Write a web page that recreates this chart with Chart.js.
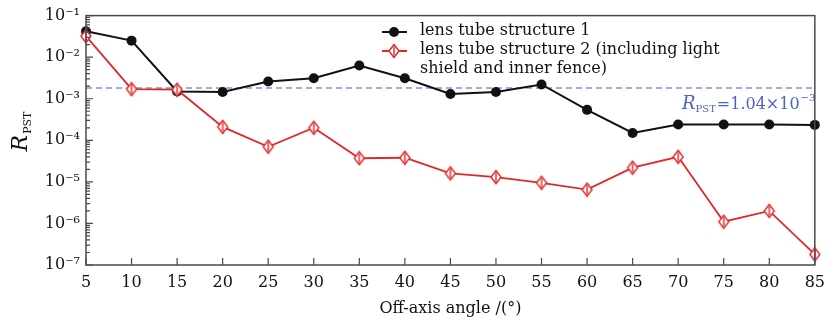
<!DOCTYPE html>
<html>
<head>
<meta charset="utf-8">
<script src="https://cdn.jsdelivr.net/npm/chart.js@4/dist/chart.umd.min.js"></script>
<style>
  html, body { margin: 0; padding: 0; background: #fff; }
  #wrap { width: 833px; height: 322px; }
</style>
</head>
<body>
<div id="wrap"><canvas id="pstChart" width="833" height="322"></canvas></div>
<script>
const angles = [5, 10, 15, 20, 25, 30, 35, 40, 45, 50, 55, 60, 65, 70, 75, 80, 85];
const structure1 = [4.2e-2, 2.5e-2, 1.5e-3, 1.45e-3, 2.6e-3, 3.1e-3, 6.3e-3, 3.1e-3, 1.3e-3, 1.45e-3, 2.2e-3, 5.4e-4, 1.5e-4, 2.4e-4, 2.4e-4, 2.4e-4, 2.35e-4];
const structure2 = [3.2e-2, 1.7e-3, 1.65e-3, 2.1e-4, 7e-5, 2.0e-4, 3.7e-5, 3.8e-5, 1.6e-5, 1.3e-5, 9.5e-6, 6.5e-6, 2.2e-5, 4.0e-5, 1.1e-6, 2.0e-6, 1.8e-7];
const yDecades = [-7, -6, -5, -4, -3, -2, -1];
const thresholdLine = 1.8e-3;
const legendLabels = ['lens tube structure 1', 'lens tube structure 2 (including light', 'shield and inner fence)'];

const FONT = '"DejaVu Serif", "Liberation Serif", serif';
const sup = { '-': '\u207B', '0': '\u2070', '1': '\u00B9', '2': '\u00B2', '3': '\u00B3', '4': '\u2074', '5': '\u2075', '6': '\u2076', '7': '\u2077', '8': '\u2078', '9': '\u2079' };
const toSup = s => String(s).split('').map(c => sup[c] || c).join('');

const pts = arr => arr.map((v, i) => ({ x: angles[i], y: v }));

function diamond(ctx, x, y, w, h) {
  ctx.beginPath();
  ctx.moveTo(x, y - h); ctx.lineTo(x + w, y); ctx.lineTo(x, y + h); ctx.lineTo(x - w, y); ctx.closePath();
  ctx.fill(); ctx.stroke();
  ctx.beginPath(); ctx.moveTo(x, y - h + 2); ctx.lineTo(x, y + h - 2); ctx.stroke();
}

// diamond marker as canvas for the red series
const dm = document.createElement('canvas');
dm.width = 14; dm.height = 16;
(() => {
  const c = dm.getContext('2d');
  c.fillStyle = '#fff'; c.strokeStyle = '#e02828'; c.lineWidth = 1.4;
  diamond(c, 7, 8, 5, 6.5);
})();

const decor = {
  id: 'decor',
  afterDatasetsDraw(chart) {
    const { ctx, chartArea: a, scales: { x, y } } = chart;
    ctx.save();
    // frame
    ctx.strokeStyle = '#4a4a4a'; ctx.lineWidth = 1.5;
    ctx.strokeRect(a.left, a.top, a.right - a.left, a.bottom - a.top);
    // inward ticks
    ctx.lineWidth = 1.2;
    ctx.beginPath();
    angles.forEach(v => {
      const px = x.getPixelForValue(v);
      ctx.moveTo(px, a.bottom); ctx.lineTo(px, a.bottom - 7);
    });
    yDecades.forEach(e => {
      for (let m = 1; m <= 9; m++) {
        const v = m * Math.pow(10, e);
        if (v > 0.1 + 1e-12) continue;
        const py = y.getPixelForValue(v);
        ctx.moveTo(a.left, py); ctx.lineTo(a.left + (m === 1 ? 7 : 4), py);
      }
    });
    ctx.stroke();
    ctx.restore();
  },
  afterDraw(chart) {
    const { ctx } = chart;
    ctx.save();
    // legend
    const lx0 = 382, lx1 = 407, tx = 420;
    ctx.lineWidth = 2;
    ctx.strokeStyle = '#111'; ctx.fillStyle = '#111';
    ctx.beginPath(); ctx.moveTo(lx0, 32); ctx.lineTo(lx1, 32); ctx.stroke();
    ctx.beginPath(); ctx.arc(394, 32, 5, 0, Math.PI * 2); ctx.fill();
    ctx.strokeStyle = '#e02828';
    ctx.beginPath(); ctx.moveTo(lx0, 51); ctx.lineTo(lx1, 51); ctx.stroke();
    ctx.drawImage(dm, 394 - 7, 51 - 8);
    ctx.fillStyle = '#111';
    ctx.font = '16px ' + FONT;
    ctx.textBaseline = 'middle';
    ctx.textAlign = 'left';
    ctx.fillText(legendLabels[0], tx, 31);
    ctx.fillText(legendLabels[1], tx, 50);
    ctx.fillText(legendLabels[2], tx, 69);

    // threshold label
    ctx.fillStyle = '#4a63c8';
    ctx.textBaseline = 'alphabetic';
    let cx = 682;
    const base = 109;
    ctx.font = 'italic 18px ' + FONT;
    ctx.fillText('R', cx, base); cx += ctx.measureText('R').width;
    ctx.font = '10px ' + FONT;
    ctx.fillText('PST', cx, base + 3); cx += ctx.measureText('PST').width + 1;
    ctx.font = '16px ' + FONT;
    ctx.fillText('=1.04\u00D710', cx, base); cx += ctx.measureText('=1.04\u00D710').width + 1;
    ctx.font = '10px ' + FONT;
    ctx.fillText('\u22123', cx, base - 8);

    // y axis title
    ctx.fillStyle = '#111';
    ctx.translate(27, 132);
    ctx.rotate(-Math.PI / 2);
    ctx.font = 'italic 22px ' + FONT;
    const rw = ctx.measureText('R').width;
    ctx.font = '11px ' + FONT;
    const pw = ctx.measureText('PST').width;
    const start = -(rw + pw) / 2;
    ctx.font = 'italic 22px ' + FONT;
    ctx.fillText('R', start, 0);
    ctx.font = '11px ' + FONT;
    ctx.fillText('PST', start + rw + 1, 4);
    ctx.restore();
  }
};

new Chart(document.getElementById('pstChart'), {
  type: 'line',
  data: {
    datasets: [
      {
        label: legendLabels[1] + ' ' + legendLabels[2], data: pts(structure2), order: 0,
        borderColor: '#e02828', borderWidth: 1.8, pointStyle: dm, clip: false
      },
      {
        label: legendLabels[0], data: pts(structure1), order: 1,
        borderColor: '#111', backgroundColor: '#111', borderWidth: 2,
        pointStyle: 'circle', pointRadius: 5, pointBorderWidth: 0, pointBackgroundColor: '#111', clip: false
      },
      {
        label: 'threshold', data: [{ x: angles[0], y: thresholdLine }, { x: angles[angles.length - 1], y: thresholdLine }],
        order: 2, borderColor: '#7d93dc', borderWidth: 1.5, borderDash: [6, 4], pointRadius: 0
      }
    ]
  },
  options: {
    responsive: false,
    animation: false,
    layout: { padding: { left: 0, top: 14, right: 11, bottom: 0 } },
    plugins: { legend: { display: false }, tooltip: { enabled: false } },
    scales: {
      x: {
        type: 'linear', min: 5, max: 85,
        grid: { display: false, drawTicks: false }, border: { display: false },
        afterBuildTicks: s => { s.ticks = angles.map(v => ({ value: v })); },
        ticks: { color: '#111', font: { family: FONT, size: 16 }, padding: 8, autoSkip: false, maxRotation: 0 },
        title: { display: true, text: 'Off-axis angle /(\u00B0)', color: '#111', font: { family: FONT, size: 16 }, padding: { top: 2, bottom: 4 } },
        afterFit: s => { s.height = 57; }
      },
      y: {
        type: 'logarithmic', min: 1e-7, max: 1e-1,
        grid: { display: false, drawTicks: false }, border: { display: false },
        afterBuildTicks: s => { s.ticks = yDecades.map(e => ({ value: Math.pow(10, e) })); },
        ticks: {
          color: '#111', font: { family: FONT, size: 16 }, padding: 6, autoSkip: false,
          callback: v => '10' + toSup(Math.round(Math.log10(v)))
        },
        afterFit: s => { s.width = 86; }
      }
    }
  },
  plugins: [decor]
});
</script>
</body>
</html>
